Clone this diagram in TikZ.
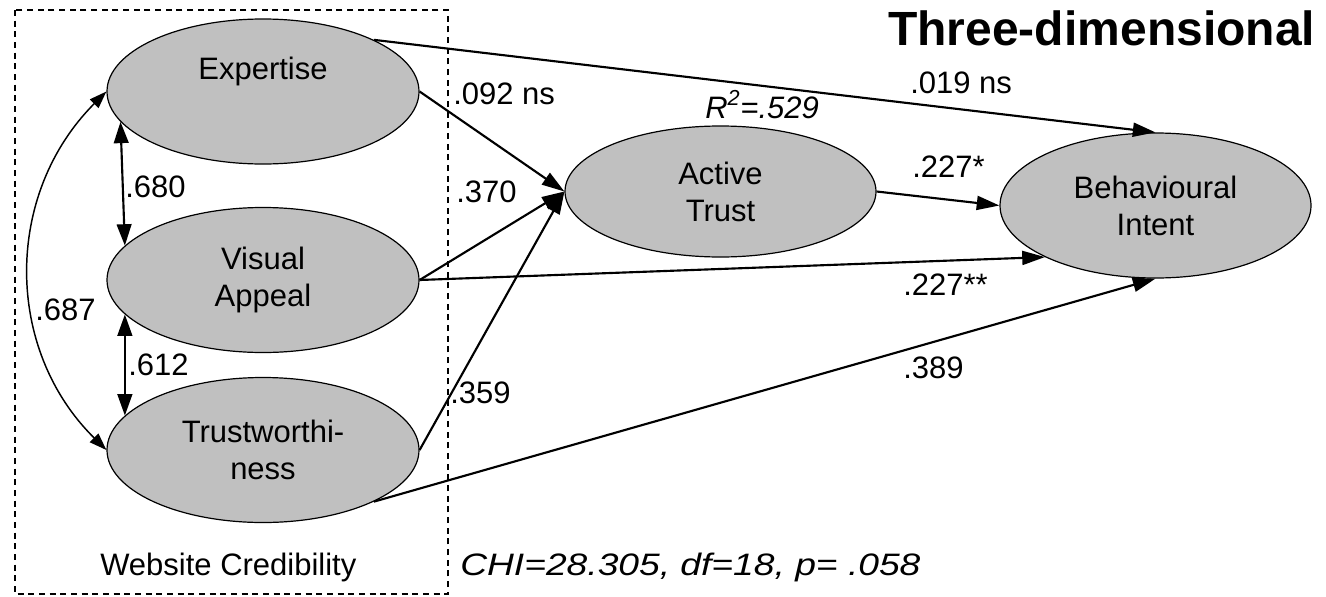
\documentclass[tikz,border=0pt]{standalone}
\usepackage{fontspec}
\setmainfont{Liberation Sans}
\newfontfamily\widefont[FakeStretch=1.2]{Liberation Sans}
\usetikzlibrary{arrows.meta,shapes.geometric}
\definecolor{ellgray}{HTML}{C0C0C0}
\tikzset{
  ell/.style={ellipse, draw=black, line width=0.9pt, fill=ellgray, inner sep=0pt, align=center,
    font=\fontsize{23.25pt}{27.75pt}\selectfont},
  lbl/.style={inner sep=0pt, anchor=base west, font=\fontsize{23.25pt}{27.75pt}\selectfont},
  arr/.style={line width=1.6pt, -{Triangle[length=17pt,width=10.5pt]}},
  dbl/.style={line width=1.6pt, {Triangle[length=16pt,width=11pt]}-{Triangle[length=16pt,width=11pt]}},
  cdbl/.style={line width=1.1pt, {Triangle[length=13pt,width=9pt]}-{Triangle[length=13pt,width=9pt]}},
  frame/.style={line width=0.9pt, dash pattern=on 4.5pt off 3.5pt}
}
\begin{document}
\begin{tikzpicture}[x=0.75pt,y=-0.75pt]
\useasboundingbox (0,0) rectangle (1326,596);
% frame
\draw[frame] (15,10) rectangle (448,594);
% ellipses
\node[ell, minimum width=234pt, minimum height=108.75pt] (E) at (263,91.5) {};
\node[lbl, anchor=base] (Et) at (263,79) {Expertise};
\node[ell, minimum width=234pt, minimum height=108.75pt] (V) at (263,280) {Visual\\Appeal};
\node[ell, minimum width=234pt, minimum height=108.75pt] (T) at (263,450) {Trustworthi-\\ness};
\node[ell, minimum width=233.25pt, minimum height=98.25pt] (A) at (720.5,191.5) {Active\\Trust};
\node[ell, minimum width=233.25pt, minimum height=108.75pt] (B) at (1155.5,205.5) {Behavioural\\Intent};
% connectors
\draw[arr] (E.25) -- (B.north);
\draw[arr] (E.east) -- (A.west);
\draw[arr] (V.east) -- (A.west);
\draw[arr] (T.east) -- (A.west);
\draw[arr] (A.east) -- (B.west);
\draw[arr] (V.east) -- (B.205);
\draw[arr] (T.335) -- (B.south);
\draw[dbl] (E.192) -- (V.166);
\draw[dbl] (V.194) -- (T.166);
\draw[cdbl] (E.west) .. controls (4,194) and (4,349) .. (T.west);
% labels
\node[lbl] (l680) at (125,197) {.680};
\node[lbl] (l687) at (35,320) {.687};
\node[lbl] (l612) at (128,375) {.612};
\node[lbl] (lweb) at (100,575) {Website Credibility};
\node[lbl] (l092) at (453,104) {.092 ns};
\node[lbl] (l370) at (456,202) {.370};
\node[lbl] (lr2) at (705,118) {\itshape R\textsuperscript{2}=.529};
\node[lbl] (l359) at (450,403) {.359};
\node[lbl] (l389) at (903,378) {.389};
\node[lbl] (l227a) at (912,177) {.227*};
\node[lbl] (l227b) at (903,295) {.227**};
\node[lbl] (l019) at (910,93) {.019 ns};
\node[lbl, font=\fontsize{36pt}{40pt}\selectfont\bfseries] (title) at (888,45) {Three-dimensional};
\node[lbl, font=\fontsize{23.25pt}{27.75pt}\selectfont\widefont\itshape] (chi) at (460,575) {CHI=28.305, df=18, p= .058};
\end{tikzpicture}
\end{document}
